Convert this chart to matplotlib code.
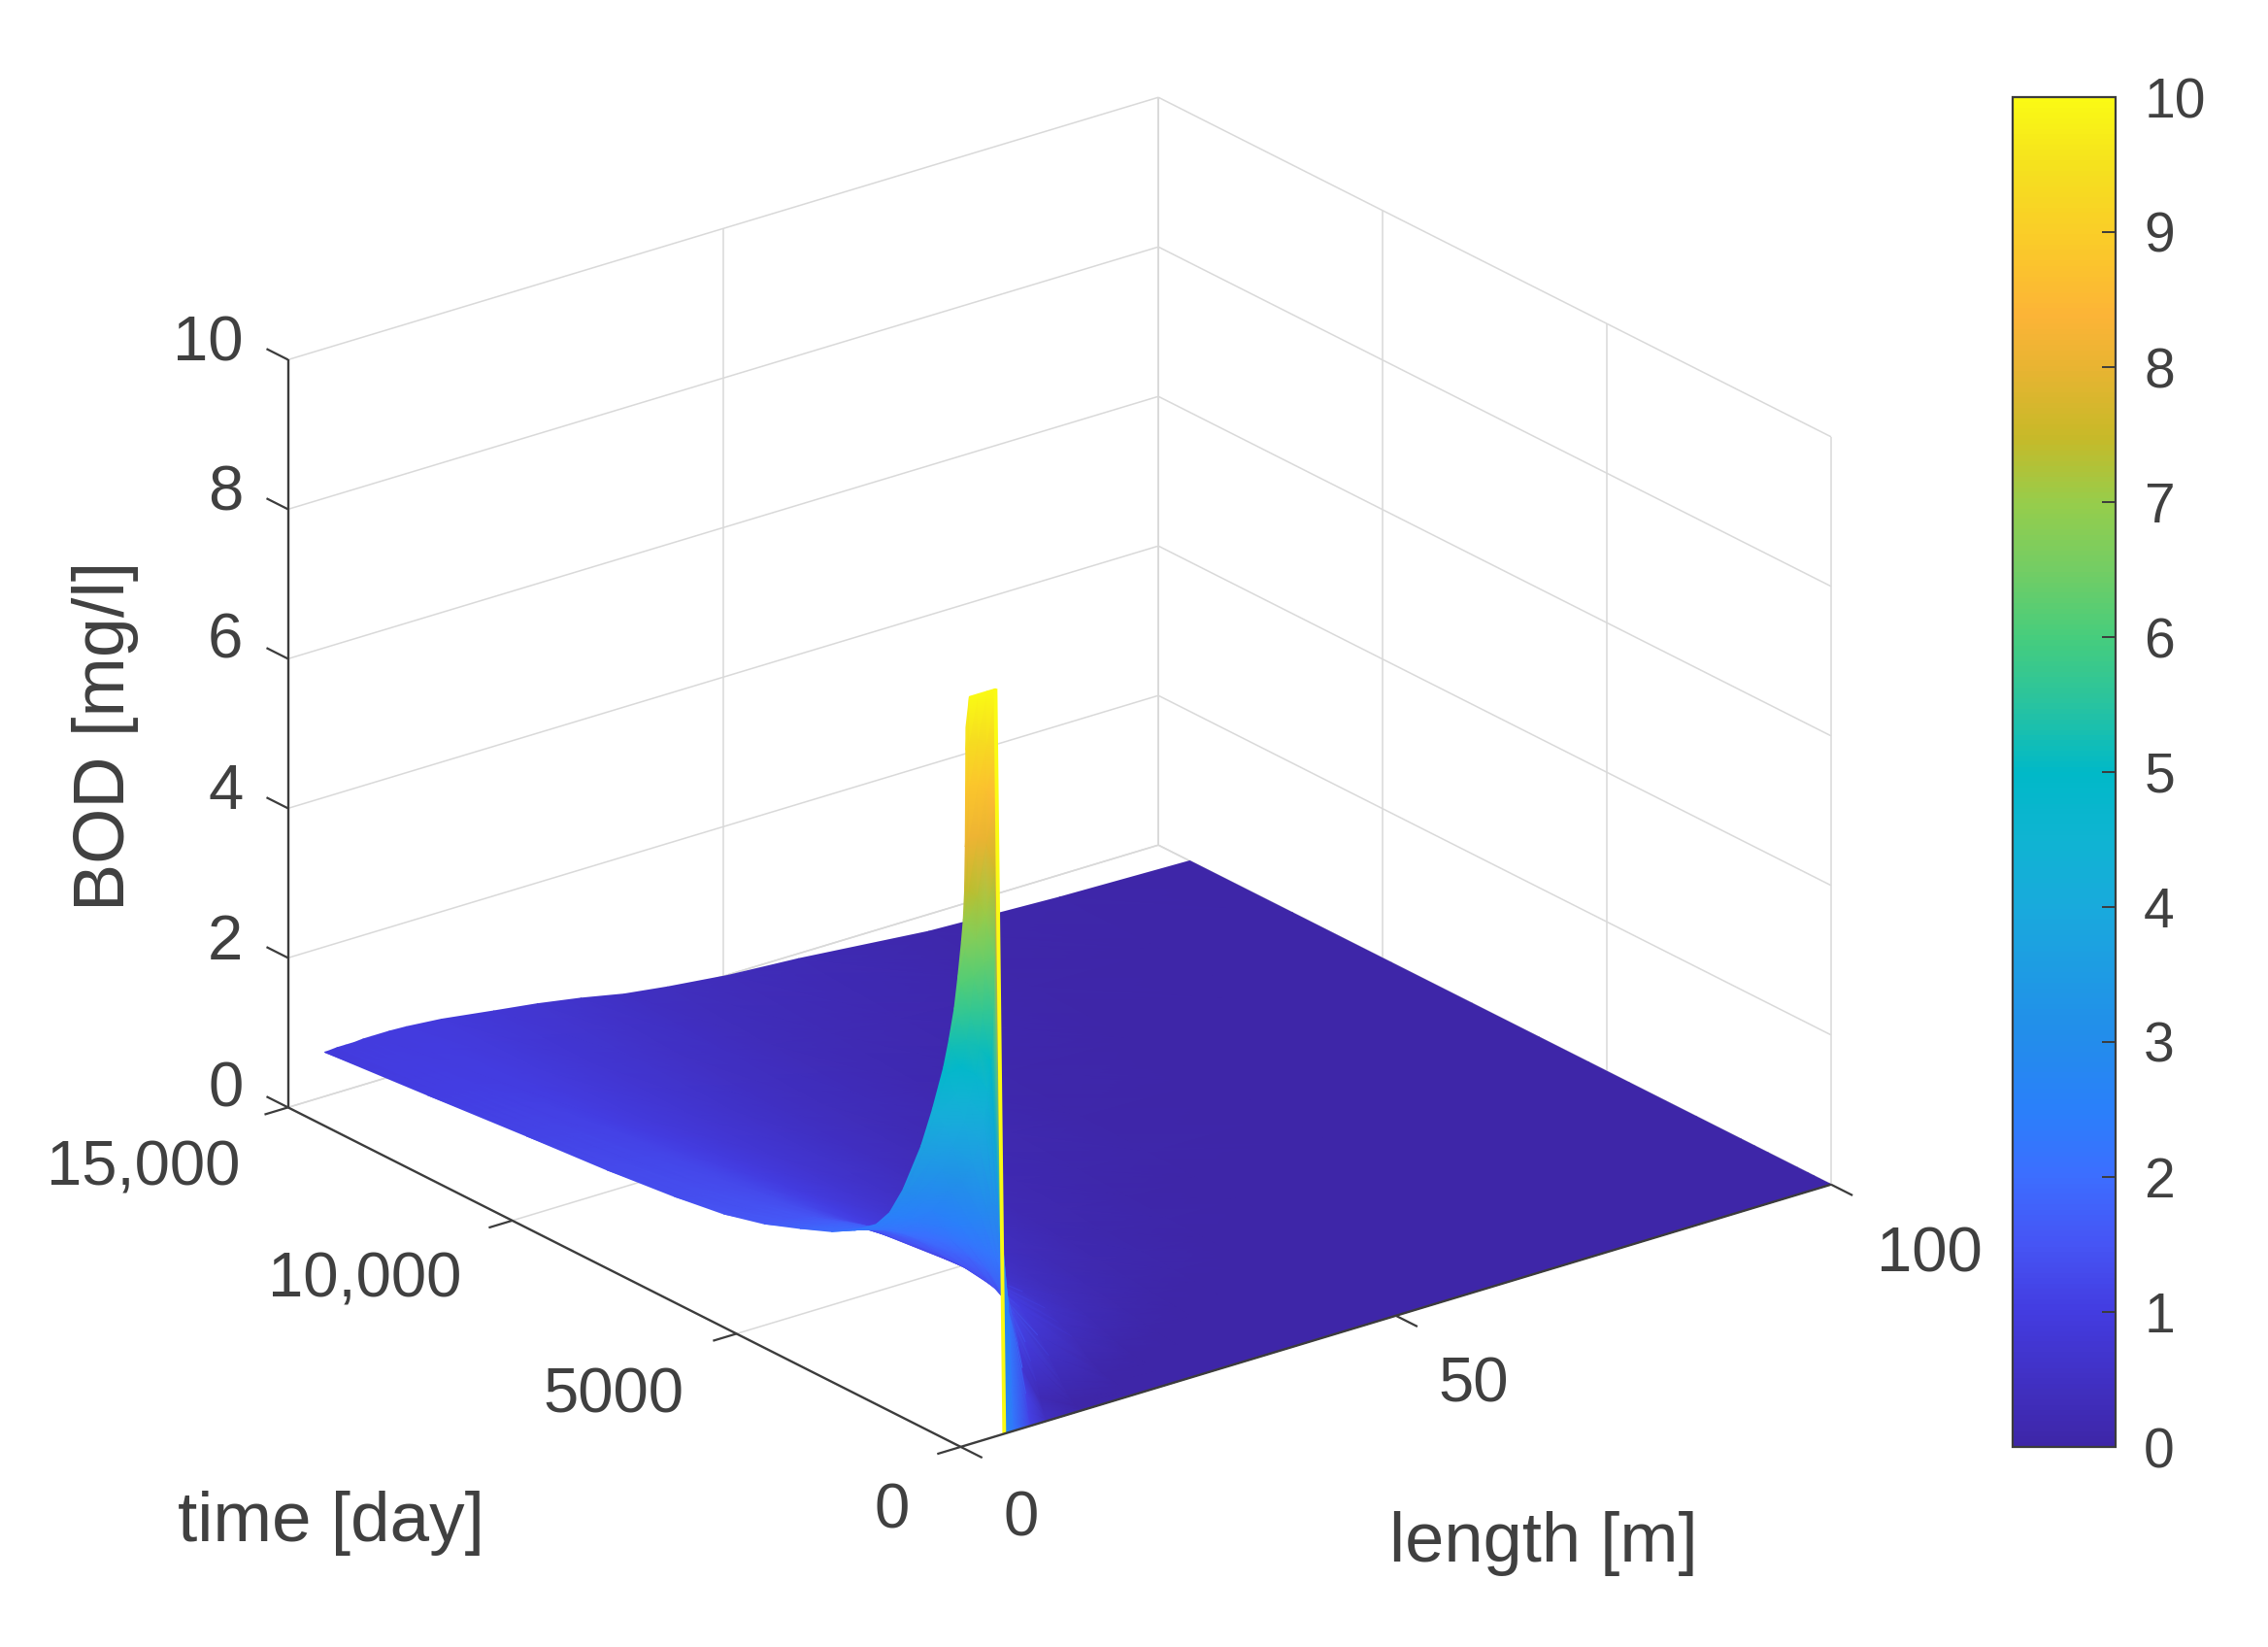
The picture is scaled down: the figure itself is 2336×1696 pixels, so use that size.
import matplotlib
matplotlib.use("Agg")
import matplotlib.pyplot as plt
import numpy as np
from matplotlib.colors import LinearSegmentedColormap, Normalize
from matplotlib.cm import ScalarMappable
from matplotlib.tri import Triangulation
from mpl_toolkits.mplot3d import proj3d

plt.rcParams['font.family'] = ['Liberation Sans', 'DejaVu Sans']

# Values
length_m = [0.6, 1, 2, 3, 4, 5, 6, 8, 10, 14, 20, 25, 30, 35, 40, 47, 55, 70, 85, 100]
time_day = [0, 3, 8, 15, 30, 60, 100, 180, 260, 380, 500, 750, 1000, 1400, 1700, 2000, 2500,
            3000, 3700, 4500, 5400, 6500, 8000, 9800, 12000, 14300]
bod = [
    [9.6, 10, 10, 10, 10, 0, 0, 0, 0, 0, 0, 0, 0, 0, 0, 0, 0, 0, 0, 0],
    [9.3, 9.4, 9.4, 9.3, 9.2, .4, .05, 0, 0, 0, 0, 0, 0, 0, 0, 0, 0, 0, 0, 0],
    [8.7, 8.8, 8.8, 8.7, 8.5, .8, .1, 0, 0, 0, 0, 0, 0, 0, 0, 0, 0, 0, 0, 0],
    [8.0, 8.1, 8.1, 8.0, 7.6, 1.2, .3, .02, 0, 0, 0, 0, 0, 0, 0, 0, 0, 0, 0, 0],
    [7.4, 7.4, 7.3, 7.0, 6.4, 1.7, .6, .05, 0, 0, 0, 0, 0, 0, 0, 0, 0, 0, 0, 0],
    [7.0, 6.95, 6.7, 6.35, 5.7, 2.4, 1.1, .18, .02, 0, 0, 0, 0, 0, 0, 0, 0, 0, 0, 0],
    [6.7, 6.6, 6.2, 5.7, 5.0, 2.9, 1.6, .4, .08, 0, 0, 0, 0, 0, 0, 0, 0, 0, 0, 0],
    [6.2, 6.1, 5.7, 5.2, 4.6, 3.0, 1.9, .72, .25, .02, 0, 0, 0, 0, 0, 0, 0, 0, 0, 0],
    [5.76, 5.65, 5.3, 4.8, 4.2, 3.0, 2.1, 1.0, .45, .06, 0, 0, 0, 0, 0, 0, 0, 0, 0, 0],
    [5.3, 5.2, 4.9, 4.45, 3.85, 2.9, 2.2, 1.25, .68, .14, .01, 0, 0, 0, 0, 0, 0, 0, 0, 0],
    [4.9, 4.8, 4.5, 4.1, 3.5, 2.75, 2.2, 1.45, .9, .25, .02, 0, 0, 0, 0, 0, 0, 0, 0, 0],
    [4.26, 4.2, 4.0, 3.7, 3.2, 2.6, 2.2, 1.7, 1.2, .5, .06, .01, 0, 0, 0, 0, 0, 0, 0, 0],
    [3.7, 3.65, 3.5, 3.3, 3.0, 2.5, 2.2, 1.8, 1.35, .7, .15, .03, 0, 0, 0, 0, 0, 0, 0, 0],
    [3.0, 2.95, 2.85, 2.75, 2.6, 2.35, 2.15, 1.85, 1.5, .95, .35, .1, .03, 0, 0, 0, 0, 0, 0, 0],
    [2.6, 2.57, 2.5, 2.43, 2.35, 2.2, 2.05, 1.8, 1.5, 1.03, .45, .17, .06, .01, 0, 0, 0, 0, 0, 0],
    [2.35, 2.3, 2.25, 2.2, 2.15, 2.05, 1.95, 1.75, 1.5, 1.1, .55, .25, .1, .03, .01, 0, 0, 0, 0, 0],
    [2.12, 2.11, 2.08, 2.05, 2.01, 1.96, 1.9, 1.72, 1.5, 1.12, .62, .33, .15, .06, .02, 0, 0, 0, 0, 0],
    [1.95, 1.95, 1.93, 1.91, 1.88, 1.85, 1.8, 1.65, 1.45, 1.1, .65, .38, .2, .1, .05, .01, 0, 0, 0, 0],
    [1.78, 1.78, 1.76, 1.74, 1.72, 1.7, 1.67, 1.56, 1.38, 1.08, .7, .45, .26, .14, .08, .02, .01, 0, 0, 0],
    [1.6, 1.6, 1.59, 1.57, 1.55, 1.53, 1.5, 1.42, 1.3, 1.05, .72, .5, .32, .19, .1, .04, .01, 0, 0, 0],
    [1.46, 1.46, 1.45, 1.44, 1.43, 1.42, 1.4, 1.33, 1.24, 1.03, .74, .53, .36, .23, .14, .06, .02, 0, 0, 0],
    [1.36, 1.36, 1.35, 1.34, 1.33, 1.32, 1.3, 1.25, 1.18, 1.0, .75, .56, .4, .27, .18, .09, .04, .01, 0, 0],
    [1.26, 1.26, 1.25, 1.25, 1.24, 1.23, 1.22, 1.18, 1.12, .97, .75, .6, .45, .33, .23, .13, .07, .02, 0, 0],
    [1.17, 1.17, 1.16, 1.16, 1.15, 1.14, 1.13, 1.1, 1.05, .93, .75, .62, .48, .37, .28, .17, .1, .03, .01, 0],
    [1.05, 1.05, 1.05, 1.04, 1.04, 1.03, 1.02, 1.0, .98, .9, .77, .66, .54, .43, .34, .24, .17, .07, .02, 0],
    [.93, .93, .94, .94, .94, .95, .95, .95, .94, .9, .8, .72, .62, .5, .42, .33, .27, .11, .04, 0],
]

# The blue fan next to the front at t <= 100 is brighter than its height
fan_length_index = [5, 6, 7, 8]
fan_colour = [3.0, 2.3, 1.1, 0.4]

x_ticks = [0, 50, 100]
t_ticks = [0, 5000, 10000, 15000]
z_ticks = [0, 2, 4, 6, 8, 10]
bar_ticks = [0, 1, 2, 3, 4, 5, 6, 7, 8, 9, 10]

x_labels = ['0', '50', '100']
t_labels = ['0', '5000', '10,000', '15,000']
z_labels = ['0', '2', '4', '6', '8', '10']

# colormap sampled from the colorbar
cmap_stops = [0, 1, 1.5, 2, 2.5, 3, 4, 4.5, 5, 5.5, 6, 6.5, 7, 7.5, 8, 8.4, 9, 9.5, 10]
cmap_rgb = [(62, 38, 168), (67, 60, 225), (70, 85, 245), (60, 110, 255), (42, 128, 250),
            (35, 140, 235), (25, 170, 220), (15, 180, 210), (0, 185, 200), (40, 195, 160),
            (70, 205, 125), (115, 205, 100), (150, 205, 75), (200, 185, 40), (232, 180, 50),
            (252, 180, 55), (250, 205, 40), (245, 225, 30), (250, 250, 20)]
parula_like = LinearSegmentedColormap.from_list(
    'parula_like', [(s / 10, tuple(c / 255 for c in rgb)) for s, rgb in zip(cmap_stops, cmap_rgb)], N=256)

W, H = 2336, 1696
SCALE = 1.491  # my pixel readings were taken on a smaller copy


def px(x, y):
    return x * SCALE / W, 1 - y * SCALE / H


GRID = '#d9d9d9'
AXIS = '#3c3c3c'
TEXT = '#404040'

fig = plt.figure(figsize=(W / 100, H / 100), dpi=100, facecolor='white')

# 3d axes only gives the projection, everything is drawn on a flat overlay
side = 1696
ax = fig.add_axes([220.4 / W, 30 / H, side / W, side / H], projection='3d', proj_type='ortho')
ax.set_box_aspect((1, 1, 0.738), zoom=1.0345)
ax.view_init(elev=22.95, azim=-127.7)
ax.set_xlim(0, 100)
ax.set_ylim(0, 15000)
ax.set_zlim(0, 10)
ax.set_axis_off()
fig.canvas.draw()
M = ax.get_proj()

flat = fig.add_axes([0, 0, 1, 1])
flat.set_xlim(0, W)
flat.set_ylim(0, H)
flat.set_axis_off()
flat.patch.set_alpha(0)


def to_px(xs, ts, zs):
    vx, vy, vz = proj3d.proj_transform(np.asarray(xs, float), np.asarray(ts, float), np.asarray(zs, float), M)
    pts = ax.transData.transform(np.column_stack([vx, vy]))
    return pts[:, 0], pts[:, 1], vz


def line3(xs, ts, zs, color=GRID, lw=1.1, zorder=1):
    sx, sy, _ = to_px(xs, ts, zs)
    flat.plot(sx, sy, color=color, lw=lw, zorder=zorder, solid_capstyle='butt')


# Grid on the back walls and the floor
for z in z_ticks:
    line3([0, 100], [15000, 15000], [z, z])
    line3([100, 100], [15000, 0], [z, z])
for x in x_ticks[1:]:
    line3([x, x], [15000, 15000], [0, 10])
    line3([x, x], [0, 15000], [0, 0])
for t in t_ticks[1:]:
    line3([100, 100], [t, t], [0, 10])
    line3([0, 100], [t, t], [0, 0])
line3([100, 100], [0, 0], [0, 10])

# Surface with smooth shading, triangles painted from the back to the front
X, T = np.meshgrid(length_m, time_day)
Z = np.array(bod)
norm = Normalize(0, 10)
colour_z = Z.copy()
for col, value in zip(fan_length_index, fan_colour):
    colour_z[:7, col] = value

sx, sy, depth = to_px(X.ravel(), T.ravel(), Z.ravel())
idx = np.arange(X.size).reshape(X.shape)
a, b, c, d = idx[:-1, :-1].ravel(), idx[:-1, 1:].ravel(), idx[1:, :-1].ravel(), idx[1:, 1:].ravel()
tris = np.vstack([np.column_stack([a, b, c]), np.column_stack([b, d, c])])
tris = tris[np.argsort(-depth[tris].mean(axis=1))]
flat.tripcolor(Triangulation(sx, sy, tris), colour_z.ravel(), shading='gouraud',
               cmap=parula_like, norm=norm, zorder=2)

# The steep front at t = 0 stays yellow all the way down
line3([length_m[4], length_m[5]], [time_day[0], time_day[0]], [bod[0][4], bod[0][5]],
      color=parula_like(1.0), lw=2.8, zorder=3)

# Axis lines and tick marks
line3([0, 0], [15000, 15000], [0, 10], color=AXIS, lw=1.7, zorder=4)
line3([0, 0], [0, 15000], [0, 0], color=AXIS, lw=1.7, zorder=4)
line3([0, 100], [0, 0], [0, 0], color=AXIS, lw=1.7, zorder=4)
for z in z_ticks:
    line3([0, 0], [15000, 15480], [z, z], color=AXIS, lw=1.6, zorder=4)
for t in t_ticks:
    line3([0, -2.7], [t, t], [0, 0], color=AXIS, lw=1.6, zorder=4)
for x in x_ticks:
    line3([x, x], [0, -480], [0, 0], color=AXIS, lw=1.6, zorder=4)

# Tick labels and axis titles
tick_size = 47
z_pos = [(168, 753), (168, 651), (168, 547), (168, 443), (168, 341), (168, 238)]
t_pos = [(616, 1044), (424, 964), (252, 884), (99, 807)]
x_pos = [(705, 1049), (1018, 957), (1333, 867)]
for lab, (px_x, px_y) in zip(z_labels, z_pos):
    fig.text(*px(px_x, px_y), lab, ha='right', va='center', fontsize=tick_size, color=TEXT)
for lab, (px_x, px_y) in zip(t_labels, t_pos):
    fig.text(*px(px_x, px_y), lab, ha='center', va='center', fontsize=tick_size, color=TEXT)
for lab, (px_x, px_y) in zip(x_labels, x_pos):
    fig.text(*px(px_x, px_y), lab, ha='center', va='center', fontsize=tick_size, color=TEXT)
fig.text(*px(73, 508), 'BOD [mg/l]', rotation=90, ha='center', va='center', fontsize=53, color=TEXT)
fig.text(*px(229, 1052), 'time [day]', ha='center', va='center', fontsize=52.5, color=TEXT)
fig.text(*px(1066, 1066), 'length [m]', ha='center', va='center', fontsize=52, color=TEXT)

# Colorbar
cax = fig.add_axes([2073 / W, 1 - 1490 / H, 106 / W, (1490 - 100) / H])
cb = fig.colorbar(ScalarMappable(norm=norm, cmap=parula_like), cax=cax, ticks=bar_ticks)
cb.outline.set_edgecolor(AXIS)
cb.outline.set_linewidth(1.6)
cax.tick_params(direction='in', length=10, width=1.4, color=AXIS, labelsize=41, labelcolor=TEXT, pad=21)

fig.savefig('out.png', dpi=100, facecolor='white')
